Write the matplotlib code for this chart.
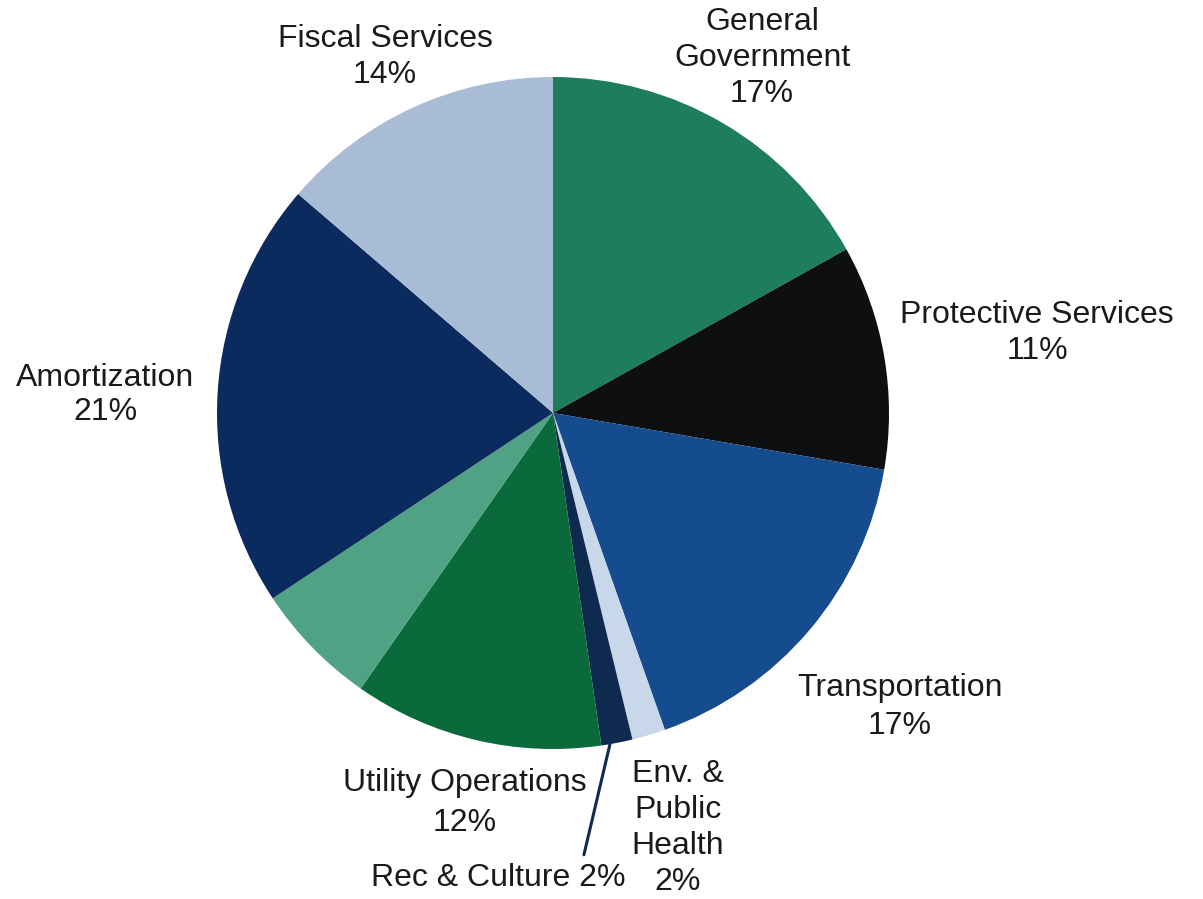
import matplotlib.pyplot as plt

# spending shares by function, clockwise from 12 o'clock
categories = ['General\nGovernment', 'Protective Services', 'Transportation',
              'Env. &\nPublic\nHealth', 'Rec & Culture', 'Utility Operations',
              '', 'Amortization', 'Fiscal Services']
shares = [16.9, 10.8, 16.9, 1.6, 1.5, 12.0, 6.0, 20.6, 13.7]
colors = ['#1e7d5b', '#0d0f10', '#154c8e', '#c9d7ea', '#0f2a4f', '#0b6a3b',
          '#4fa283', '#0b2a5d', '#a9bcd5']

W, H = 1203, 899
plt.rcParams['font.family'] = ['Liberation Sans', 'DejaVu Sans']

fig = plt.figure(figsize=(W / 100, H / 100), dpi=100)
ax = fig.add_axes([0, 0, 1, 1])

cx, cy, r = 553, H - 413, 336
ax.pie(shares, colors=colors, startangle=90, counterclock=False,
       center=(cx, cy), radius=r, normalize=True,
       wedgeprops=dict(linewidth=0))
# pie() resets the limits, so fix the frame afterwards
ax.set_xlim(0, W)
ax.set_ylim(0, H)
ax.set_aspect('equal')
ax.axis('off')

total = sum(shares)
pct = [f'{round(s / total * 100):d}%' for s in shares]

def px(x, y):
    return x, H - y

# label anchor points (pixel coordinates, y from top) and line spacing
label_pos = {
    0: (762, 58, 1.25),
    1: (1037, 333, 1.25),
    2: (900, 707, 1.35),
    3: (678, 828, 1.25),
    5: (465, 803, 1.45),
    7: (105, 395, 1.2),
    8: (385, 57, 1.25),
}
txt = dict(fontsize=23, color='#1a1a1a', ha='center', va='center')
for i, (x, y, spacing) in label_pos.items():
    ax.text(*px(x, y), categories[i] + '\n' + pct[i], linespacing=spacing, **txt)

# Rec & Culture has a leader line
ax.annotate(categories[4] + ' ' + pct[4], xy=px(610, 744), xytext=px(498, 878),
            arrowprops=dict(arrowstyle='-', color='#0f2a4f', lw=2.2,
                            shrinkA=4, shrinkB=0, relpos=(0.83, 1.0)),
            **txt)

fig.savefig('out.png', dpi=100)
